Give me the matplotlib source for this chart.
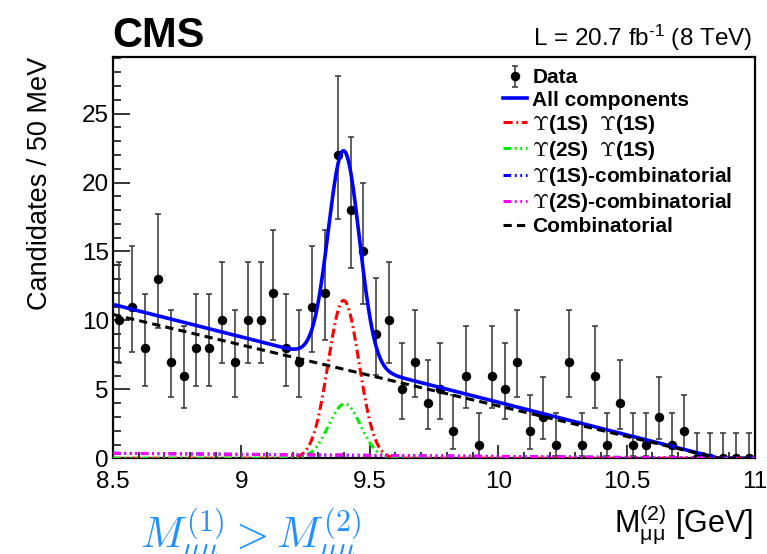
import numpy as np
import matplotlib
matplotlib.use("Agg")
import matplotlib.pyplot as plt
from matplotlib.ticker import MultipleLocator, FormatStrFormatter

# Candidates per 50 MeV bin, M(2) from 8.5 to 11.0 GeV
mass_lo, mass_hi, n_bins = 8.5, 11.0, 50
counts = [10, 11, 8, 13, 7, 6, 8, 8, 10, 7,
          10, 10, 12, 8, 7, 11, 12, 22, 18, 15,
          9, 10, 5, 7, 4, 5, 2, 6, 1, 6,
          5, 7, 2, 3, 1, 7, 1, 6, 1, 4,
          1, 1, 3, 1, 2, 0, 0, 0, 0, 0]

# fit components
comb_slope = 4.42      # candidates / GeV
comb_end = 10.86       # GeV, where the combinatorial shape reaches zero
ups1_comb_frac = 0.035
ups2_comb_frac = 0.035
peak11_amp, peak11_mean, peak11_sigma = 11.45, 9.398, 0.060
peak21_amp, peak21_mean, peak21_sigma = 3.95, 9.402, 0.062

plt.rcParams['font.family'] = ['Liberation Sans', 'DejaVu Sans']
plt.rcParams['mathtext.fontset'] = 'custom'
plt.rcParams['mathtext.rm'] = 'Liberation Sans'
plt.rcParams['mathtext.it'] = 'Liberation Sans:italic'
plt.rcParams['mathtext.bf'] = 'Liberation Sans:bold'


def poisson_errors(n):
    """Approximate 68% Garwood interval for each count."""
    n = np.asarray(n, dtype=float)
    lo = np.where(n > 0, n * (1 - 1 / (9 * np.maximum(n, 1)) - 1 / (3 * np.sqrt(np.maximum(n, 1)))) ** 3, 0.0)
    up = (n + 1) * (1 - 1 / (9 * (n + 1)) + 1 / (3 * np.sqrt(n + 1))) ** 3
    return n - lo, up - n


def gauss(x, amp, mean, sigma):
    return amp * np.exp(-0.5 * ((x - mean) / sigma) ** 2)


edges = np.linspace(mass_lo, mass_hi, n_bins + 1)
centers = 0.5 * (edges[1:] + edges[:-1])
err_lo, err_hi = poisson_errors(counts)

x = np.linspace(mass_lo, mass_hi, 800)
comb = comb_slope * np.clip(comb_end - x, 0, None)
ups1_comb = ups1_comb_frac * comb
ups2_comb = ups2_comb_frac * comb
peak11 = gauss(x, peak11_amp, peak11_mean, peak11_sigma)
peak21 = gauss(x, peak21_amp, peak21_mean, peak21_sigma)
total = comb + ups1_comb + ups2_comb + peak11 + peak21

fig = plt.figure(figsize=(7.67, 5.54), dpi=100)
ax = fig.add_axes([0.1473, 0.1727, 0.8371, 0.7244])

dashdot3 = (0, (2.5, 1.2, 0.6, 1.2, 0.6, 1.2, 0.6, 1.2))
data = ax.errorbar(centers, counts, yerr=[err_lo, err_hi], fmt='o', color='black',
                   ecolor='#333333', elinewidth=1.1, capsize=2.2, capthick=1.1,
                   markersize=5.8, zorder=3, label='Data')
l_tot, = ax.plot(x, total, color='#0000ff', lw=2.6, zorder=4, label='All components')
l_11, = ax.plot(x, peak11, color='#ff0000', lw=2.2, ls=(0, (3, 1.2, 0.6, 1.2)),
                zorder=5, label=r'$\Upsilon$(1S)  $\Upsilon$(1S)')
l_21, = ax.plot(x, peak21, color='#00ee00', lw=2.2, ls=dashdot3,
                zorder=5, label=r'$\Upsilon$(2S)  $\Upsilon$(1S)')
l_1c, = ax.plot(x, ups1_comb, color='#0000ff', lw=2.2, ls=dashdot3,
                zorder=5, label=r'$\Upsilon$(1S)-combinatorial')
l_2c, = ax.plot(x, ups2_comb, color='#ff00ff', lw=2.2, ls=dashdot3,
                zorder=5, label=r'$\Upsilon$(2S)-combinatorial')
l_cb, = ax.plot(x, comb, color='black', lw=2.2, ls=(0, (2.7, 1.7)),
                zorder=6, label='Combinatorial')

ax.set_xlim(mass_lo, mass_hi)
ax.set_ylim(0, 29.1)
ax.xaxis.set_major_locator(MultipleLocator(0.5))
ax.xaxis.set_minor_locator(MultipleLocator(0.1))
ax.yaxis.set_major_locator(MultipleLocator(5))
ax.yaxis.set_minor_locator(MultipleLocator(1))
ax.xaxis.set_major_formatter(FormatStrFormatter('%g'))
ax.tick_params(axis='x', which='major', direction='in', length=9.3, width=1.1, pad=9, labelsize=17.5)
ax.tick_params(axis='x', which='minor', direction='in', length=4.5, width=1.1)
ax.tick_params(axis='y', which='major', direction='in', length=12, width=1.1, pad=3, labelsize=17.5)
ax.tick_params(axis='y', which='minor', direction='in', length=6, width=1.1)
for sp in ax.spines.values():
    sp.set_linewidth(1.6)

ax.set_ylabel('Candidates / 50 MeV', fontsize=19.5)
ax.yaxis.set_label_coords(-0.093, 1.0)
ax.yaxis.label.set_horizontalalignment('right')
ax.set_xlabel(r'M$_{\mathregular{\mu\mu}}^{\mathregular{(2)}}$ [GeV]', fontsize=22,
              ha='right')
ax.xaxis.set_label_coords(0.997, -0.11)

leg = ax.legend(handles=[data, l_tot, l_11, l_21, l_1c, l_2c, l_cb],
                loc='upper left', bbox_to_anchor=(0.585, 1.008), frameon=False,
                prop={'weight': 'bold', 'size': 15}, handlelength=1.15,
                handletextpad=0.25, labelspacing=0.15, borderaxespad=0.3)
for t in leg.get_texts():
    t.set_math_fontfamily('cm')

fig.text(0.146, 0.915, 'CMS', fontsize=30, fontweight='bold', ha='left', va='baseline')
fig.text(0.981, 0.918, r'L = 20.7 fb$^{\text{-1}}$ (8 TeV)', fontsize=17.5, ha='right', va='baseline')
fig.text(0.182, 0.010, r'$M_{\mu\mu}^{(1)} > M_{\mu\mu}^{(2)}$', fontsize=31,
         color='#1e90ff', math_fontfamily='cm', ha='left', va='baseline')

fig.savefig('out.png', dpi=100)
